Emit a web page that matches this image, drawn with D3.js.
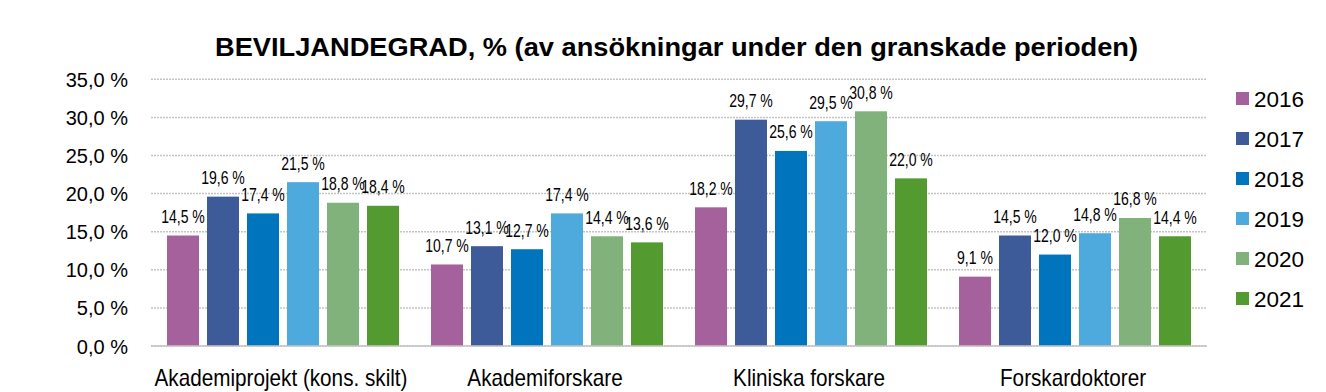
<!DOCTYPE html>
<html><head><meta charset="utf-8">
<script src="https://cdn.jsdelivr.net/npm/d3@7"></script>
<style>
body{margin:0;background:#fff;}
svg{display:block;}
</style></head>
<body>
<svg id="c" width="1326" height="392"></svg>
<script>
const categories = ["Akademiprojekt (kons. skilt)", "Akademiforskare", "Kliniska forskare", "Forskardoktorer"];
const years = ["2016", "2017", "2018", "2019", "2020", "2021"];
const v2016 = [14.5, 10.7, 18.2, 9.1];
const v2017 = [19.6, 13.1, 29.7, 14.5];
const v2018 = [17.4, 12.7, 25.6, 12.0];
const v2019 = [21.5, 17.4, 29.5, 14.8];
const v2020 = [18.8, 14.4, 30.8, 16.8];
const v2021 = [18.4, 13.6, 22.0, 14.4];
const yTicks = [0, 5, 10, 15, 20, 25, 30, 35];
const colors = ["#A5619B", "#3D5B99", "#0074BD", "#4EA9DC", "#82B27B", "#539B30"];
const titleText = "BEVILJANDEGRAD, % (av ansökningar under den granskade perioden)";

const series = [v2016, v2017, v2018, v2019, v2020, v2021];
const fmt = v => v.toFixed(1).replace(".", ",") + " %";

const svg = d3.select("#c");
const regular = "'Liberation Sans',Arial,sans-serif";

const x0 = d3.scaleBand().domain(categories).range([151, 1207]).paddingInner(0).paddingOuter(0);
const x1 = d3.scaleBand().domain(years).range([12, 252]).paddingInner(0.2).paddingOuter(0.1);
const y = d3.scaleLinear().domain([0, 35]).range([346, 79.3]);

// title
svg.append("text").attr("x", 215).attr("y", 55.5)
  .attr("font-family", regular).attr("font-weight", "bold").attr("font-size", 25.5)
  .attr("textLength", 923).attr("lengthAdjust", "spacingAndGlyphs")
  .attr("fill", "#000").text(titleText);

// gridlines
svg.append("g").selectAll("line").data(yTicks).join("line")
  .attr("x1", 151).attr("x2", 1207)
  .attr("y1", d => y(d)).attr("y2", d => y(d))
  .attr("stroke", "#c4c4c4").attr("stroke-width", 1.5).attr("stroke-dasharray", "2,1");

// y axis labels
const yAxis = d3.axisLeft(y).tickValues(yTicks).tickSize(0).tickPadding(0)
  .tickFormat(d => d.toFixed(1).replace(".", ",") + " %");
const ya = svg.append("g").attr("transform", "translate(128,0)").call(yAxis);
ya.select(".domain").remove();
ya.selectAll("text").attr("font-family", regular).attr("font-size", 20)
  .attr("fill", "#000").attr("dy", null).attr("y", 7);

// bars
const groups = svg.append("g").selectAll("g").data(categories).join("g")
  .attr("transform", d => `translate(${x0(d)},0)`);
const rows = (c, ci) => years.map((yr, si) => ({yr, si, v: series[si][ci]}));
groups.selectAll("rect").data(rows).join("rect")
  .attr("x", d => x1(d.yr)).attr("width", x1.bandwidth())
  .attr("y", d => y(d.v)).attr("height", d => y(0) - y(d.v))
  .attr("fill", d => colors[d.si]);
groups.selectAll("text").data(rows).join("text")
  .attr("transform", d => `translate(${x1(d.yr) + x1.bandwidth() / 2},${y(d.v) - 12.5}) scale(0.78,1)`)
  .attr("text-anchor", "middle")
  .attr("font-family", regular).attr("font-size", 18)
  .attr("fill", "#000").text(d => fmt(d.v));

// x axis line
svg.append("line").attr("x1", 151).attr("x2", 1207).attr("y1", y(0)).attr("y2", y(0))
  .attr("stroke", "#c4c4c4").attr("stroke-width", 1.5);

// category labels
const xAxis = d3.axisBottom(x0).tickSize(0).tickPadding(0);
const xa = svg.append("g").call(xAxis);
xa.select(".domain").remove();
xa.selectAll(".tick").attr("transform", d => `translate(${x0(d) + x0.bandwidth() / 2 - 2},385.5) scale(0.9,1)`);
xa.selectAll("text").attr("font-family", regular).attr("font-size", 23)
  .attr("fill", "#000").attr("dy", null).attr("y", 0);

// legend
const leg = svg.append("g").selectAll("g").data(years).join("g")
  .attr("transform", (d, i) => `translate(1236,${92 + i * 40})`);
leg.append("rect").attr("width", 13).attr("height", 13).attr("fill", (d, i) => colors[i]);
leg.append("text").attr("x", 18).attr("y", 15).attr("font-family", regular)
  .attr("font-size", 22.5).attr("fill", "#000").text(d => d);
</script>
</body></html>
